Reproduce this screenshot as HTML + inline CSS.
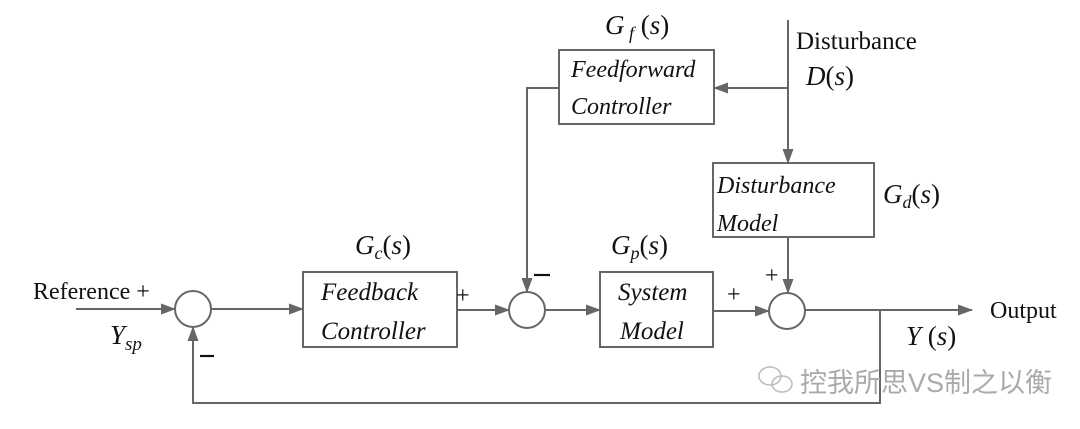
<!DOCTYPE html>
<html><head><meta charset="utf-8"><style>
html,body{margin:0;padding:0;background:#fff;}
svg{display:block;}
text{font-family:"Liberation Serif",serif;fill:#111;}
.i{font-style:italic;}
</style></head><body>
<svg width="1080" height="429" viewBox="0 0 1080 429" xmlns="http://www.w3.org/2000/svg">
<defs><marker id="a" markerWidth="15" markerHeight="11" refX="14" refY="5.5" orient="auto" markerUnits="userSpaceOnUse"><path d="M0,0 L15,5.5 L0,11 z" fill="#666"/></marker></defs>
<g stroke="#666" stroke-width="2" fill="none">
<circle cx="193" cy="309" r="18"/>
<circle cx="527" cy="310" r="18"/>
<circle cx="787" cy="311" r="18"/>
<rect x="303" y="272" width="154" height="75"/>
<rect x="600" y="272" width="113" height="75"/>
<rect x="559" y="50" width="155" height="74"/>
<rect x="713" y="163" width="161" height="74"/>
<line x1="76" y1="309" x2="175" y2="309" marker-end="url(#a)"/>
<line x1="211" y1="309" x2="303" y2="309" marker-end="url(#a)"/>
<line x1="457" y1="310" x2="509" y2="310" marker-end="url(#a)"/>
<line x1="545" y1="310" x2="600" y2="310" marker-end="url(#a)"/>
<line x1="713" y1="311" x2="769" y2="311" marker-end="url(#a)"/>
<line x1="805" y1="310" x2="972" y2="310" marker-end="url(#a)"/>
<polyline points="880,310 880,403 193,403 193,327" marker-end="url(#a)"/>
<polyline points="559,88 527,88 527,292" marker-end="url(#a)"/>
<line x1="788" y1="20" x2="788" y2="163" marker-end="url(#a)"/>
<line x1="788" y1="88" x2="714" y2="88" marker-end="url(#a)"/>
<line x1="788" y1="237" x2="788" y2="293" marker-end="url(#a)"/>
</g>
<g stroke="#111" stroke-width="2.2">
<line x1="200" y1="356" x2="214" y2="356"/>
<line x1="534" y1="275" x2="550" y2="275"/>
</g>
<text x="33" y="299" font-size="24">Reference +</text>
<text x="110" y="344" font-size="27" class="i">Y<tspan font-size="19" dy="6">sp</tspan></text>
<text x="456" y="303" font-size="24">+</text>
<text x="727" y="302" font-size="24">+</text>
<text x="765" y="283" font-size="24">+</text>
<text x="355" y="254" font-size="27" class="i">G<tspan font-size="18" dy="5">c</tspan><tspan dy="-5" font-style="normal">(</tspan>s<tspan font-style="normal">)</tspan></text>
<text x="611" y="254" font-size="27" class="i">G<tspan font-size="18" dy="5">p</tspan><tspan dy="-5" font-style="normal">(</tspan>s<tspan font-style="normal">)</tspan></text>
<text x="605" y="34" font-size="27" class="i">G<tspan font-size="18" dy="5"> f</tspan><tspan dy="-5" font-style="normal"> (</tspan>s<tspan font-style="normal">)</tspan></text>
<text x="883" y="203" font-size="27" class="i">G<tspan font-size="18" dy="5">d</tspan><tspan dy="-5" font-style="normal">(</tspan>s<tspan font-style="normal">)</tspan></text>
<text x="796" y="49" font-size="25">Disturbance</text>
<text x="806" y="85" font-size="27" class="i">D<tspan font-style="normal">(</tspan>s<tspan font-style="normal">)</tspan></text>
<text x="990" y="318" font-size="24">Output</text>
<text x="906" y="345" font-size="27" class="i">Y<tspan font-style="normal"> (</tspan>s<tspan font-style="normal">)</tspan></text>
<text x="321" y="300" font-size="25" class="i">Feedback</text>
<text x="321" y="339" font-size="25" class="i">Controller</text>
<text x="618" y="300" font-size="25" class="i">System</text>
<text x="620" y="339" font-size="25" class="i">Model</text>
<text x="571" y="77" font-size="24" class="i">Feedforward</text>
<text x="571" y="114" font-size="24" class="i">Controller</text>
<text x="717" y="193" font-size="24" class="i">Disturbance</text>
<text x="717" y="231" font-size="24" class="i">Model</text>
<g fill="none" stroke="#bbb" stroke-width="1.5"><ellipse cx="770" cy="376" rx="11" ry="9"/><ellipse cx="782" cy="384" rx="10" ry="8"/></g>
<text x="800" y="392" font-size="27" style="fill:#aaa;font-family:'Liberation Sans','Noto Sans CJK SC',sans-serif">控我所思VS制之以衡</text>
</svg>
</body></html>
